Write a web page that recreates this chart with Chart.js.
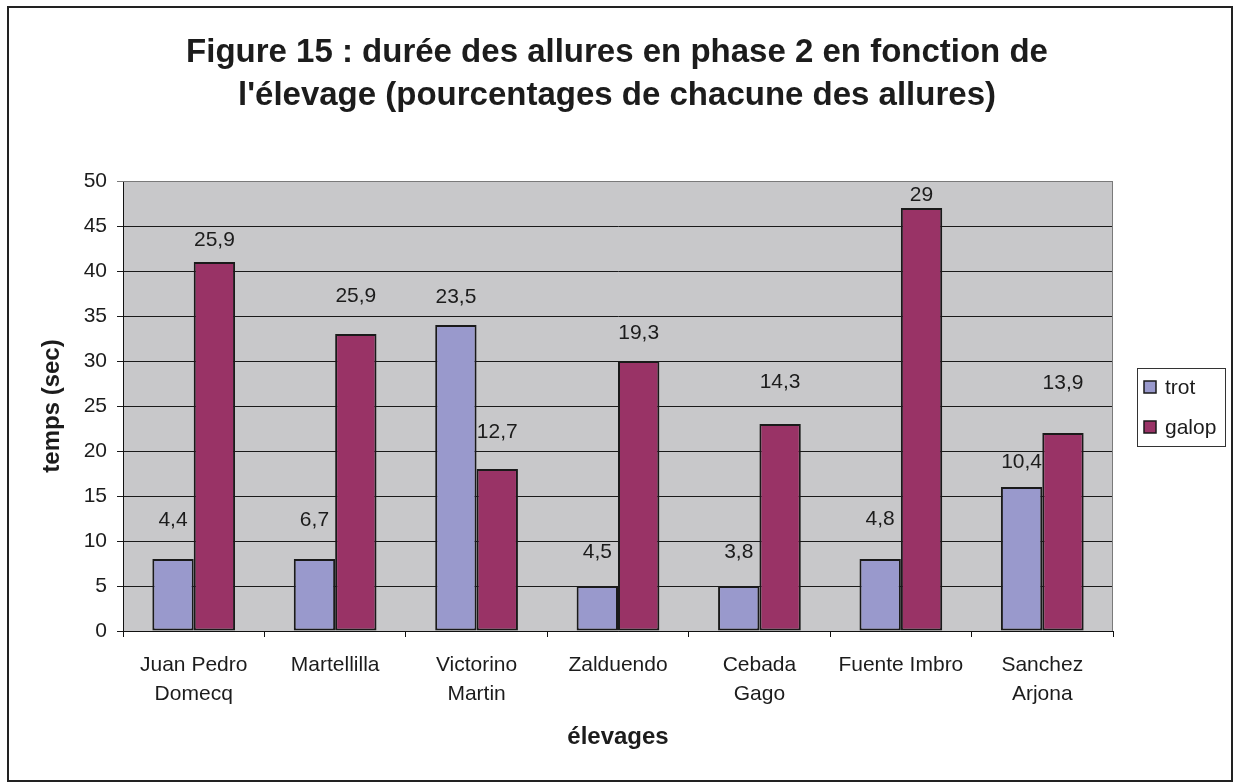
<!DOCTYPE html>
<html>
<head>
<meta charset="utf-8">
<script src="https://cdn.jsdelivr.net/npm/chart.js@4.4.1/dist/chart.umd.min.js"></script>
<style>
  html, body { margin: 0; padding: 0; background: #ffffff; }
  #wrap { position: relative; width: 1234px; height: 782px; }
</style>
</head>
<body>
<div id="wrap"><canvas id="c" width="1234" height="782"></canvas></div>
<script>
// ---- data ----
const categories = [["Juan Pedro", "Domecq"], "Martellilla", ["Victorino", "Martin"], "Zalduendo", ["Cebada", "Gago"], "Fuente Imbro", ["Sanchez", "Arjona"]];
const seriesNames = ["trot", "galop"];
const trotSeconds = [8, 8, 34, 5, 5, 8, 16];
const galopSeconds = [41, 33, 18, 30, 23, 47, 22];
const trotPercent = [4.4, 6.7, 23.5, 4.5, 3.8, 4.8, 10.4];
const galopPercent = [25.9, 25.9, 12.7, 19.3, 14.3, 29, 13.9];
const yTickMin = 0, yTickMax = 50, yTickStep = 5;
const titleLines = ["Figure 15 : durée des allures en phase 2 en fonction de", "l'élevage (pourcentages de chacune des allures)"];
const yAxisTitle = "temps (sec)";
const xAxisTitle = "élevages";

// ---- presentation ----
const FONT = "'Liberation Sans', Arial, Helvetica, sans-serif";
const TEXT = '#1c1c1c';
const TROT_COLOR = '#9999CC';
const GALOP_COLOR = '#993366';
// vertical lift (px) of each percentage label above its bar, as placed in the reference
const labelLift = [[39, 39, 28, 34, 34, 40, 25], [21.5, 38, 37, 28, 41.5, 12.5, 49.5]];

Chart.defaults.font.family = FONT;
Chart.defaults.color = TEXT;

const fmt = v => String(v).replace('.', ',');

const framePlugin = {
  id: 'frame',
  beforeDraw(chart) {
    const ctx = chart.ctx, a = chart.chartArea;
    ctx.save();
    ctx.fillStyle = '#ffffff';
    ctx.fillRect(0, 0, chart.width, chart.height);
    ctx.fillStyle = '#C8C8CA';
    ctx.fillRect(a.left, a.top, a.right - a.left, a.bottom - a.top);
    ctx.restore();
  },
  afterDraw(chart) {
    const ctx = chart.ctx, a = chart.chartArea;
    ctx.save();
    // plot area border (top/right grey)
    ctx.strokeStyle = '#7a7a7a';
    ctx.lineWidth = 1;
    ctx.beginPath();
    ctx.moveTo(a.left, a.top + 0.5);
    ctx.lineTo(a.right - 0.5, a.top + 0.5);
    ctx.lineTo(a.right - 0.5, a.bottom);
    ctx.stroke();
    // outer chart border
    ctx.strokeStyle = '#222222';
    ctx.lineWidth = 2;
    ctx.strokeRect(8, 7, 1224, 774);
    // legend
    const lx = 1137.5, ly = 368.5, lw = 88, lh = 78;
    ctx.fillStyle = '#ffffff';
    ctx.fillRect(lx, ly, lw, lh);
    ctx.strokeStyle = '#333333';
    ctx.lineWidth = 1;
    ctx.strokeRect(lx, ly, lw, lh);
    ctx.font = '21px ' + FONT;
    ctx.textBaseline = 'middle';
    ctx.textAlign = 'left';
    chart.data.datasets.forEach((ds, i) => {
      const cy = 387 + i * 40;
      ctx.fillStyle = ds.backgroundColor;
      ctx.fillRect(1144, cy - 6, 12, 12);
      ctx.strokeStyle = '#1a1a1a';
      ctx.lineWidth = 1.5;
      ctx.strokeRect(1144, cy - 6, 12, 12);
      ctx.fillStyle = TEXT;
      ctx.fillText(ds.label, 1165, cy + 1);
    });
    ctx.restore();
  }
};

const labelPlugin = {
  id: 'pctLabels',
  afterDatasetsDraw(chart) {
    const ctx = chart.ctx;
    const pct = [trotPercent, galopPercent];
    ctx.save();
    ctx.font = '21px ' + FONT;
    ctx.fillStyle = TEXT;
    ctx.textAlign = 'center';
    ctx.textBaseline = 'middle';
    chart.data.datasets.forEach((ds, i) => {
      const meta = chart.getDatasetMeta(i);
      meta.data.forEach((bar, j) => {
        ctx.fillText(fmt(pct[i][j]), bar.x, bar.y - labelLift[i][j]);
      });
    });
    ctx.restore();
  }
};

new Chart(document.getElementById('c'), {
  type: 'bar',
  data: {
    labels: categories,
    datasets: [
      { label: seriesNames[0], data: trotSeconds, backgroundColor: TROT_COLOR, borderColor: '#1a1a1a', borderWidth: 2, borderSkipped: false },
      { label: seriesNames[1], data: galopSeconds, backgroundColor: GALOP_COLOR, borderColor: '#1a1a1a', borderWidth: 2, borderSkipped: false }
    ]
  },
  options: {
    responsive: false,
    animation: false,
    devicePixelRatio: 1,
    layout: { padding: 0 },
    datasets: { bar: { categoryPercentage: 0.585, barPercentage: 1 } },
    plugins: {
      legend: { display: false },
      tooltip: { enabled: false },
      title: {
        display: true,
        text: titleLines,
        color: TEXT,
        font: { size: 33, weight: 'bold', family: FONT, lineHeight: 43 / 33 },
        padding: { top: 31, bottom: 64 }
      }
    },
    scales: {
      x: {
        position: 'bottom',
        offset: true,
        grid: { display: true, drawOnChartArea: false, drawTicks: true, tickLength: 6, color: '#111', offset: true },
        border: { display: true, color: '#111', width: 1 },
        ticks: { color: TEXT, font: { size: 21, family: FONT, lineHeight: 29 / 21 }, padding: 13.5, maxRotation: 0, autoSkip: false },
        title: { display: true, text: xAxisTitle, color: TEXT, font: { size: 24, weight: 'bold', family: FONT, lineHeight: 1.2 }, padding: { top: 0, bottom: 30 } },
        afterFit(s) { s.height = 151; }
      },
      y: {
        position: 'left',
        min: yTickMin, max: yTickMax,
        grid: {
          color: ctx => (ctx.tick && ctx.tick.value === yTickMax ? '#7a7a7a' : '#1a1a1a'),
          lineWidth: 1, tickLength: 6, drawTicks: true
        },
        border: { display: true, color: '#111', width: 1 },
        ticks: { stepSize: yTickStep, color: TEXT, font: { size: 21, family: FONT }, padding: 10 },
        title: { display: true, text: yAxisTitle, color: TEXT, font: { size: 24, weight: 'bold', family: FONT, lineHeight: 1.2 }, padding: { top: 37.5, bottom: 0 } },
        afterFit(s) { s.width = 123; }
      },
      spacer: {
        type: 'linear', position: 'right', display: true,
        grid: { display: false }, ticks: { display: false }, border: { display: false },
        afterFit(s) { s.width = 121; }
      }
    }
  },
  plugins: [framePlugin, labelPlugin]
});
</script>
</body>
</html>
